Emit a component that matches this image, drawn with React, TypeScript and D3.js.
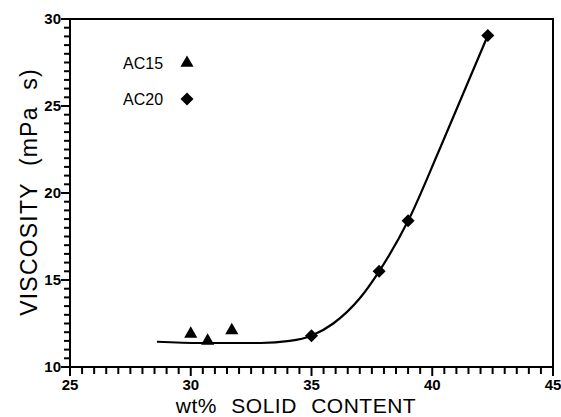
import React, { useRef, useEffect } from "react";
import * as d3 from "d3";

// AC15 samples (triangles)
const ac15X = [30.0, 30.7, 31.7];
const ac15Y = [11.9, 11.5, 12.1];
// AC20 samples (diamonds)
const ac20X = [35.0, 37.8, 39.0, 42.3];
const ac20Y = [11.8, 15.5, 18.4, 29.05];
// fitted curve
const fitX = [28.6, 30.4, 32.9, 34.1, 35.0, 35.9, 37.0, 37.8, 39.0, 40.3, 42.3];
const fitY = [11.45, 11.38, 11.38, 11.5, 11.8, 12.5, 13.95, 15.5, 18.4, 22.5, 29.05];

const xTicks = [25, 30, 35, 40, 45];
const yTicks = [10, 15, 20, 25, 30];

const x = d3.scaleLinear().domain([25, 45]).range([70, 553]);
const y = d3.scaleLinear().domain([10, 30]).range([367, 19]);
const font = "'Liberation Sans', Arial, sans-serif";

const App = () => {
  const svgRef = useRef<SVGSVGElement>(null);

  useEffect(() => {
    const svg = d3.select(svgRef.current).select<SVGGElement>("g.plot");
    svg.selectAll("*").remove();

    svg
      .append("g")
      .selectAll("text")
      .data(xTicks)
      .enter()
      .append("text")
      .attr("x", (d) => x(d))
      .attr("y", y(10) + 23)
      .attr("text-anchor", "middle")
      .style("font-family", font)
      .style("font-size", "15px")
      .style("font-weight", "bold")
      .text((d) => d);

    svg
      .append("g")
      .selectAll("text")
      .data(yTicks)
      .enter()
      .append("text")
      .attr("x", x(25) - 9)
      .attr("y", (d) => y(d) + 5)
      .attr("text-anchor", "end")
      .style("font-family", font)
      .style("font-size", "15px")
      .style("font-weight", "bold")
      .text((d) => d);

    // axis titles
    svg
      .append("text")
      .attr("x", 296)
      .attr("y", 413)
      .attr("text-anchor", "middle")
      .style("font-family", font)
      .style("font-size", "21px")
      .style("letter-spacing", "0.5px")
      .style("word-spacing", "8px")
      .text("wt% SOLID CONTENT");

    svg
      .append("text")
      .attr("transform", "translate(37,192) rotate(-90)")
      .attr("text-anchor", "middle")
      .style("font-family", font)
      .style("font-size", "23px")
      .style("letter-spacing", "1.2px")
      .style("word-spacing", "9px")
      .text("VISCOSITY (mPa s)");

    // fitted curve
    const line = d3
      .line<number>()
      .x((d, i) => x(fitX[i]))
      .y((d, i) => y(fitY[i]))
      .curve(d3.curveMonotoneX);
    svg
      .append("path")
      .attr("d", line(fitX))
      .attr("fill", "none")
      .attr("stroke", "#000")
      .attr("stroke-width", 2.2);

    const tri = d3.symbol().type(d3.symbolTriangle).size(75);
    const dia = d3.symbol().type(d3.symbolSquare).size(85);

    svg
      .append("g")
      .selectAll("path")
      .data(ac15X)
      .enter()
      .append("path")
      .attr("d", tri())
      .attr("transform", (d, i) => `translate(${x(d)},${y(ac15Y[i])})`)
      .attr("fill", "#000");

    svg
      .append("g")
      .selectAll("path")
      .data(ac20X)
      .enter()
      .append("path")
      .attr("d", dia())
      .attr("transform", (d, i) => `translate(${x(d)},${y(ac20Y[i])}) rotate(45)`)
      .attr("fill", "#000");

    // legend
    const legend = [
      { name: "AC15", sym: tri, rot: 0, cy: 63 },
      { name: "AC20", sym: dia, rot: 45, cy: 99 },
    ];
    legend.forEach((l) => {
      svg
        .append("text")
        .attr("x", 123)
        .attr("y", l.cy + 6)
        .style("font-family", font)
        .style("font-size", "16px")
        .text(l.name);
      svg
        .append("path")
        .attr("d", l.sym())
        .attr("transform", `translate(187,${l.cy}) rotate(${l.rot})`)
        .attr("fill", "#000");
    });
  }, []);

  // ticks every 0.5, majors longer
  const xMinor = d3.range(50, 91).map((v) => v / 2);
  const yMinor = d3.range(20, 61).map((v) => v / 2);

  return (
    <svg
      ref={svgRef}
      width={561}
      height={417}
      style={{ position: "absolute", left: 0, top: 0, background: "#fff" }}
    >
      <rect
        x={x(25)}
        y={y(30)}
        width={x(45) - x(25)}
        height={y(10) - y(30)}
        fill="none"
        stroke="#000"
        strokeWidth={2}
      />
      <g stroke="#000" strokeWidth={2}>
        {xMinor.map((d) => (
          <line key={"x" + d} x1={x(d)} x2={x(d)} y1={y(10)} y2={y(10) + (d % 5 === 0 ? 9 : 7)} />
        ))}
        {yMinor.map((d) => (
          <line key={"y" + d} x1={x(25)} x2={x(25) - (d % 5 === 0 ? 9 : 6)} y1={y(d)} y2={y(d)} />
        ))}
      </g>
      <g className="plot"></g>
    </svg>
  );
};

export default App;
